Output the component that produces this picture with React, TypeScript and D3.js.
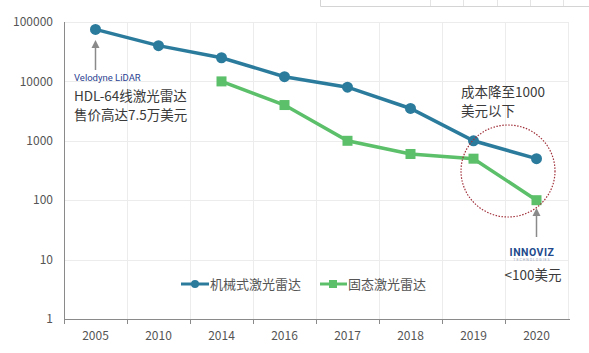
import { useEffect, useRef } from 'react'
import * as d3 from 'd3'

const years = ['2005', '2010', '2014', '2016', '2017', '2018', '2019', '2020']
const mechanical = [75000, 40000, 25000, 12000, 8000, 3500, 1000, 500]
const solidYears = ['2014', '2016', '2017', '2018', '2019', '2020']
const solidState = [10000, 4000, 1000, 600, 500, 100]
const yTicks = [1, 10, 100, 1000, 10000, 100000]
const seriesNames = ['机械式激光雷达', '固态激光雷达']

const W = 589
const H = 353
const BLUE = '#2b7b9d'
const GREEN = '#5cbf6a'
const FONT = '"Noto Sans CJK SC", "Noto Sans", sans-serif'

export default function App() {
  const svgRef = useRef<SVGSVGElement>(null)

  useEffect(() => {
    document.body.style.margin = '0'
    const svg = d3.select(svgRef.current)
    svg.selectAll('*').remove()

    const m = { left: 64, right: 568, top: 22, bottom: 319 }
    const x = d3.scaleBand().domain(years).range([m.left, m.right])
    const y = d3.scaleLog().domain([1, 100000]).range([m.bottom, m.top])
    const cx = (yr: string) => (x(yr) as number) + x.bandwidth() / 2

    svg.append('rect').attr('width', W).attr('height', H).attr('fill', '#fff')

    // stray table border at the top
    const top = svg.append('g').attr('stroke', '#d4d4d4').attr('fill', 'none')
    top.append('path').attr('d', 'M320.5,0V6.5H589')
    ;[430, 463, 497, 530, 563].forEach(v =>
      top.append('line').attr('x1', v + 0.5).attr('x2', v + 0.5).attr('y1', 0).attr('y2', 6).attr('stroke', '#e4e4e4'))

    // grid
    const grid = svg.append('g').attr('stroke', '#ececec').attr('stroke-width', 1)
    yTicks.slice(1).forEach(t =>
      grid.append('line').attr('x1', m.left).attr('x2', m.right)
        .attr('y1', Math.round(y(t)) + 0.5).attr('y2', Math.round(y(t)) + 0.5))
    years.slice(1).forEach(yr =>
      grid.append('line').attr('x1', Math.round(x(yr) as number) + 0.5).attr('x2', Math.round(x(yr) as number) + 0.5)
        .attr('y1', m.top).attr('y2', m.bottom))
    grid.append('line').attr('x1', m.right + 0.5).attr('x2', m.right + 0.5).attr('y1', m.top).attr('y2', m.bottom)

    // axes
    const ax = svg.append('g').attr('stroke', '#8a8a8a')
    ax.append('line').attr('x1', m.left + 0.5).attr('x2', m.left + 0.5).attr('y1', m.top).attr('y2', m.bottom)
    ax.append('line').attr('x1', m.left).attr('x2', m.right + 2).attr('y1', m.bottom + 0.5).attr('y2', m.bottom + 0.5)
    years.forEach(yr =>
      ax.append('line').attr('x1', Math.round(x(yr) as number) + 0.5).attr('x2', Math.round(x(yr) as number) + 0.5)
        .attr('y1', m.bottom).attr('y2', m.bottom + 5))

    svg.append('g').selectAll('text').data(yTicks).join('text')
      .attr('x', 53).attr('y', d => y(d)).attr('dy', '0.35em')
      .attr('text-anchor', 'end').attr('font-size', 12).attr('font-family', FONT).attr('fill', '#555')
      .text(d => String(d))

    svg.append('g').selectAll('text').data(years).join('text')
      .attr('x', cx).attr('y', 336).attr('dy', '0.35em')
      .attr('text-anchor', 'middle').attr('font-size', 12).attr('font-family', FONT).attr('fill', '#555')
      .text(d => d)

    // lines
    const line = d3.line<[string, number]>().x(d => cx(d[0])).y(d => y(d[1]))
    const mechData = years.map((yr, i) => [yr, mechanical[i]] as [string, number])
    const solidData = solidYears.map((yr, i) => [yr, solidState[i]] as [string, number])

    svg.append('path').datum(mechData).attr('d', line).attr('fill', 'none')
      .attr('stroke', BLUE).attr('stroke-width', 3.5)
    svg.append('g').selectAll('circle').data(mechData).join('circle')
      .attr('cx', d => cx(d[0])).attr('cy', d => y(d[1])).attr('r', 5.5).attr('fill', BLUE)

    svg.append('path').datum(solidData).attr('d', line).attr('fill', 'none')
      .attr('stroke', GREEN).attr('stroke-width', 3.5)
    svg.append('g').selectAll('rect').data(solidData).join('rect')
      .attr('x', d => cx(d[0]) - 5).attr('y', d => y(d[1]) - 5).attr('width', 10).attr('height', 10).attr('fill', GREEN)

    // legend
    const lg = svg.append('g').attr('font-family', FONT).attr('font-size', 13).attr('fill', '#555')
    lg.append('line').attr('x1', 181).attr('x2', 209).attr('y1', 284).attr('y2', 284).attr('stroke', BLUE).attr('stroke-width', 3)
    lg.append('circle').attr('cx', 195).attr('cy', 284).attr('r', 4).attr('fill', BLUE)
    lg.append('text').attr('x', 210).attr('y', 284).attr('dy', '0.35em').text(seriesNames[0])
    lg.append('line').attr('x1', 320).attr('x2', 347).attr('y1', 284).attr('y2', 284).attr('stroke', GREEN).attr('stroke-width', 3)
    lg.append('rect').attr('x', 329).attr('y', 280).attr('width', 8).attr('height', 8).attr('fill', GREEN)
    lg.append('text').attr('x', 348).attr('y', 284).attr('dy', '0.35em').text(seriesNames[1])

    // annotations
    const arrow = (xx: number, y1: number, y2: number) => {
      svg.append('line').attr('x1', xx).attr('x2', xx).attr('y1', y1).attr('y2', y2 + 6)
        .attr('stroke', '#8a8a8a').attr('stroke-width', 1.5)
      svg.append('path').attr('d', `M${xx - 4},${y2 + 8}L${xx},${y2}L${xx + 4},${y2 + 8}Z`).attr('fill', '#8a8a8a')
    }
    arrow(cx('2005'), 70, 40)
    arrow(cx('2020'), 237, 208)

    const note = svg.append('g').attr('font-family', FONT).attr('fill', '#3a3a3a')
    note.append('text').attr('x', 74).attr('y', 81).attr('font-size', 9.5).attr('fill', '#2c3f92')
      .attr('font-family', 'Roboto, sans-serif').text('Velodyne LiDAR')
    note.append('text').attr('x', 74).attr('y', 101).attr('font-size', 13.5).text('HDL-64线激光雷达')
    note.append('text').attr('x', 74).attr('y', 120).attr('font-size', 13.5).text('售价高达7.5万美元')
    note.append('text').attr('x', 461).attr('y', 97).attr('font-size', 13.5).text('成本降至1000')
    note.append('text').attr('x', 461).attr('y', 116).attr('font-size', 13.5).text('美元以下')
    note.append('text').attr('x', 532).attr('y', 256).attr('text-anchor', 'middle').attr('font-size', 10.5)
      .attr('font-weight', 'bold').attr('letter-spacing', 0.5).attr('fill', '#234a8c')
      .attr('font-family', 'Roboto, sans-serif').text('INNOVIZ')
    note.append('text').attr('x', 532).attr('y', 261).attr('text-anchor', 'middle').attr('font-size', 3.5)
      .attr('letter-spacing', 1).attr('fill', '#9aa4b8').attr('font-family', 'Roboto, sans-serif').text('TECHNOLOGIES')
    note.append('text').attr('x', 533).attr('y', 280).attr('text-anchor', 'middle').attr('font-size', 13.5).text('<100美元')

    svg.append('ellipse').attr('cx', 508).attr('cy', 171).attr('rx', 47).attr('ry', 46)
      .attr('fill', 'none').attr('stroke', '#a0303a').attr('stroke-width', 1.2).attr('stroke-dasharray', '1.5,1.5')
  }, [])

  return (
    <div style={{ position: 'absolute', left: 0, top: 0 }}>
      <svg ref={svgRef} width={W} height={H} />
    </div>
  )
}
